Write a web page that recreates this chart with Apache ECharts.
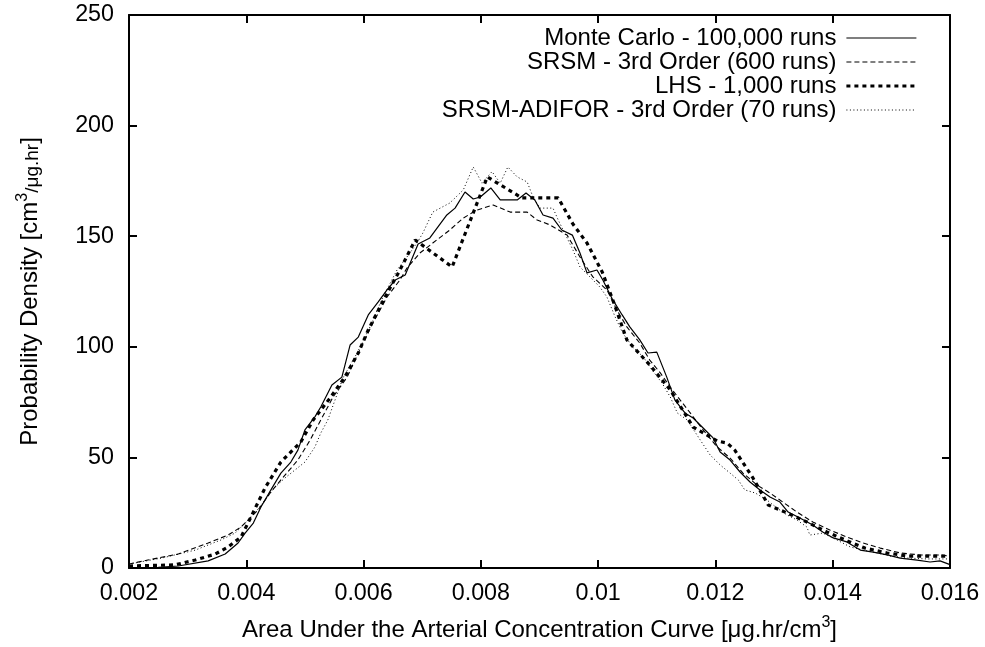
<!DOCTYPE html>
<html>
<head>
<meta charset="utf-8">
<script src="https://cdn.jsdelivr.net/npm/echarts@6/dist/echarts.min.js"></script>
<style>
html,body{margin:0;padding:0;background:#fff;}
#chart{width:985px;height:647px;}
</style>
</head>
<body>
<div id="chart"></div>
<script>
// ---- Data ----
const seriesNames = [
  'Monte Carlo - 100,000 runs',
  'SRSM - 3rd Order (600 runs)',
  'LHS - 1,000 runs',
  'SRSM-ADIFOR - 3rd Order (70 runs)'
];

const xTicks = [0.002, 0.004, 0.006, 0.008, 0.01, 0.012, 0.014, 0.016];
const yTicks = [0, 50, 100, 150, 200, 250];

const monteCarlo = [
  [0.00200,0],[0.00250,0.3],[0.00284,0.9],[0.00335,3.2],[0.00364,6.3],[0.00386,11.3],[0.00398,15.8],
  [0.00412,20.3],[0.00425,27.6],[0.00442,35.3],[0.00459,42.9],[0.00476,47.9],[0.00488,53.3],[0.00500,62.4],
  [0.00517,68.3],[0.00527,72.8],[0.00546,82.7],[0.00563,86.3],[0.00577,100.8],[0.00591,104.4],[0.00608,114.4],
  [0.00625,120.3],[0.00640,125.7],[0.00654,130.2],[0.00671,132.5],[0.00693,146.5],[0.00713,149.2],[0.00742,159.6],
  [0.00756,162.7],[0.00773,170.0],[0.00787,166.8],[0.00799,167.7],[0.00817,171.8],[0.00833,166.4],[0.00862,166.4],
  [0.00877,169.5],[0.00892,166.4],[0.00906,159.6],[0.00923,158.2],[0.00938,152.8],[0.00956,150.5],[0.00969,142.4],
  [0.00981,133.4],[0.00998,134.7],[0.01008,130.2],[0.01025,121.2],[0.01041,114.4],[0.01054,109.0],[0.01071,103.1],
  [0.01085,97.2],[0.01100,97.6],[0.01117,86.3],[0.01131,75.9],[0.01148,70.1],[0.01162,67.8],[0.01179,63.3],
  [0.01196,58.8],[0.01208,52.4],[0.01225,48.8],[0.01242,43.4],[0.01259,38.9],[0.01276,35.3],[0.01293,32.1],
  [0.01310,29.8],[0.01324,25.3],[0.01344,22.6],[0.01366,19.4],[0.01383,16.3],[0.01401,13.6],[0.01424,11.8],
  [0.01447,8.1],[0.01469,7.2],[0.01493,5.9],[0.01515,4.5],[0.01544,3.6],[0.01566,2.7],[0.01583,3.2],[0.01600,1.5]
];

const srsm = [
  [0.00200,1.8],[0.00232,3.6],[0.00284,6.3],[0.00335,11.3],[0.00369,14.9],[0.00391,18.5],[0.00420,26.2],
  [0.00442,34.4],[0.00466,42.0],[0.00488,48.8],[0.00509,57.9],[0.00527,66.9],[0.00548,77.3],[0.00572,86.3],
  [0.00599,101.7],[0.00616,110.8],[0.00640,122.5],[0.00662,130.2],[0.00674,135.6],[0.00696,142.4],[0.00718,146.9],
  [0.00747,152.8],[0.00770,158.2],[0.00793,161.8],[0.00821,164.1],[0.00850,160.9],[0.00879,160.9],[0.00896,157.3],
  [0.00918,155.1],[0.00947,150.5],[0.00969,140.6],[0.00991,131.6],[0.01015,125.7],[0.01032,116.6],[0.01049,109.0],
  [0.01071,101.7],[0.01088,94.0],[0.01106,88.2],[0.01123,81.8],[0.01140,75.9],[0.01157,70.1],[0.01179,62.4],
  [0.01203,54.7],[0.01225,49.7],[0.01247,42.9],[0.01271,37.5],[0.01293,33.9],[0.01315,29.8],[0.01339,25.3],
  [0.01366,20.8],[0.01395,17.2],[0.01424,14.0],[0.01452,11.3],[0.01481,9.0],[0.01515,6.8],[0.01549,5.9],
  [0.01583,5.9],[0.01600,5.4]
];

const lhs = [
  [0.00200,0.9],[0.00278,1.4],[0.00313,3.6],[0.00347,6.3],[0.00369,9.5],[0.00391,14.0],[0.00408,23.1],
  [0.00432,36.2],[0.00459,47.9],[0.00493,57.0],[0.00514,66.9],[0.00543,76.9],[0.00568,86.3],[0.00591,97.2],
  [0.00608,107.6],[0.00628,118.0],[0.00645,126.6],[0.00662,134.7],[0.00688,148.3],[0.00751,136.1],[0.00811,176.8],
  [0.00870,167.3],[0.00932,167.3],[0.00957,155.5],[0.00981,146.9],[0.01007,133.8],[0.01025,121.2],[0.01049,103.1],
  [0.01088,91.8],[0.01123,80.5],[0.01162,63.7],[0.01203,57.4],[0.01220,56.5],[0.01233,53.3],[0.01264,40.7],
  [0.01290,28.5],[0.01322,24.9],[0.01356,20.8],[0.01390,16.3],[0.01421,12.7],[0.01455,9.0],[0.01493,6.8],
  [0.01527,5.4],[0.01566,5.4],[0.01600,5.4]
];

const adifor = [
  [0.00200,1.8],[0.00256,4.5],[0.00313,8.1],[0.00357,12.7],[0.00381,15.8],[0.00398,20.3],[0.00415,24.9],
  [0.00432,30.7],[0.00449,36.6],[0.00466,40.7],[0.00483,44.3],[0.00500,47.9],[0.00517,54.7],[0.00527,61.0],
  [0.00539,66.9],[0.00565,86.0],[0.00589,97.2],[0.00611,109.0],[0.00633,122.5],[0.00657,134.7],[0.00674,140.6],
  [0.00691,146.9],[0.00701,151.4],[0.00718,160.9],[0.00747,165.0],[0.00770,170.9],[0.00787,181.3],[0.00802,174.0],
  [0.00819,179.2],[0.00833,174.0],[0.00846,181.3],[0.00862,176.8],[0.00879,174.5],[0.00889,167.7],[0.00901,162.7],
  [0.00923,162.7],[0.00932,157.3],[0.00947,149.2],[0.00957,143.8],[0.00969,136.1],[0.00986,131.6],[0.01003,127.0],
  [0.01015,122.5],[0.01029,113.5],[0.01042,106.2],[0.01059,99.9],[0.01077,95.4],[0.01092,89.5],[0.01109,83.6],
  [0.01123,77.3],[0.01135,70.1],[0.01152,66.9],[0.01174,57.9],[0.01191,51.1],[0.01208,46.6],[0.01225,42.9],
  [0.01239,39.8],[0.01250,35.3],[0.01268,33.9],[0.01288,30.7],[0.01305,27.1],[0.01322,24.0],[0.01339,21.7],
  [0.01356,18.5],[0.01361,14.9],[0.01383,15.8],[0.01407,12.7],[0.01430,9.5],[0.01452,8.1],[0.01476,6.8],
  [0.01498,5.4],[0.01527,4.5],[0.01561,4.1],[0.01600,4.1]
];

// ---- Chart ----
const FONT = '"Liberation Sans", Arial, Helvetica, sans-serif';
const FS_TICK = 23.3;
const FS_TEXT = 24;
const chart = echarts.init(document.getElementById('chart'), null, {renderer: 'canvas'});

const xMin = xTicks[0], xMax = xTicks[xTicks.length - 1], xInt = xTicks[1] - xTicks[0];
const yMin = yTicks[0], yMax = yTicks[yTicks.length - 1], yInt = yTicks[1] - yTicks[0];

const axisLine = {show: true, onZero: false, lineStyle: {color: '#000', width: 2}};
const axisTick = {show: true, inside: true, length: 8, lineStyle: {color: '#000', width: 2}};

const rich = {
  sup: {fontSize: 16, fontFamily: FONT, color: '#000', padding: [0, 0, 14, 0]},
  sub: {fontSize: 19, fontFamily: FONT, color: '#000', padding: [6, 0, 0, 0]}
};

const styles = [
  {width: 1.2, type: 'solid'},
  {width: 1.1, type: [5, 3]},
  {width: 3.2, type: [4, 4]},
  {width: 1, type: [1, 2.5]}
];

function lineSeries(i, data) {
  return {
    name: seriesNames[i], type: 'line', data: data,
    xAxisIndex: 0, yAxisIndex: 0,
    symbol: 'none', showSymbol: false, smooth: false,
    lineStyle: {color: '#000', width: styles[i].width, type: styles[i].type, cap: 'butt'},
    itemStyle: {color: '#000'},
    emphasis: {disabled: true},
    silent: true
  };
}

const option = {
  animation: false,
  backgroundColor: '#fff',
  textStyle: {fontFamily: FONT, color: '#000'},
  grid: {left: 129, right: 35, top: 15, bottom: 79, containLabel: false},
  legend: {
    orient: 'vertical', right: 67, top: 26, align: 'right', padding: 0,
    itemWidth: 70, itemHeight: 12, itemGap: 0,
    data: seriesNames.map(function (n, i) {
      return {name: n, lineStyle: {color: '#000', width: styles[i].width, type: styles[i].type}};
    }),
    selectedMode: false,
    itemStyle: {opacity: 0, borderWidth: 0},
    textStyle: {fontFamily: FONT, fontSize: FS_TEXT, color: '#000', width: 430,
      lineHeight: 23.3, padding: [0, 5, 0, 0]}
  },
  xAxis: [{
    type: 'value', position: 'bottom', min: xMin, max: xMax, interval: xInt,
    axisLine: axisLine, axisTick: axisTick,
    axisLabel: {color: '#000', fontSize: FS_TICK, fontFamily: FONT, margin: 14,
      formatter: function (v) { return String(+v.toFixed(3)); }},
    splitLine: {show: false},
    name: 'Area Under the Arterial Concentration Curve [μg.hr/cm{sup|3}]',
    nameLocation: 'middle', nameGap: 47,
    nameTextStyle: {fontSize: FS_TEXT, fontFamily: FONT, color: '#000', rich: rich}
  }, {
    type: 'value', position: 'top', min: xMin, max: xMax, interval: xInt,
    axisLine: axisLine, axisTick: axisTick,
    axisLabel: {show: false}, splitLine: {show: false}
  }],
  yAxis: [{
    type: 'value', position: 'left', min: yMin, max: yMax, interval: yInt,
    axisLine: axisLine, axisTick: axisTick,
    axisLabel: {color: '#000', fontSize: FS_TICK, fontFamily: FONT, margin: 15},
    splitLine: {show: false},
    name: 'Probability Density [cm{sup|3}{sub|/μg.hr}]',
    nameLocation: 'middle', nameGap: 84, nameRotate: 90,
    nameTextStyle: {fontSize: FS_TEXT, fontFamily: FONT, color: '#000', rich: rich}
  }, {
    type: 'value', position: 'right', min: yMin, max: yMax, interval: yInt,
    axisLine: axisLine, axisTick: axisTick,
    axisLabel: {show: false}, splitLine: {show: false}
  }],
  series: [
    lineSeries(0, monteCarlo),
    lineSeries(1, srsm),
    lineSeries(2, lhs),
    lineSeries(3, adifor)
  ]
};
chart.setOption(option);
</script>
</body>
</html>
